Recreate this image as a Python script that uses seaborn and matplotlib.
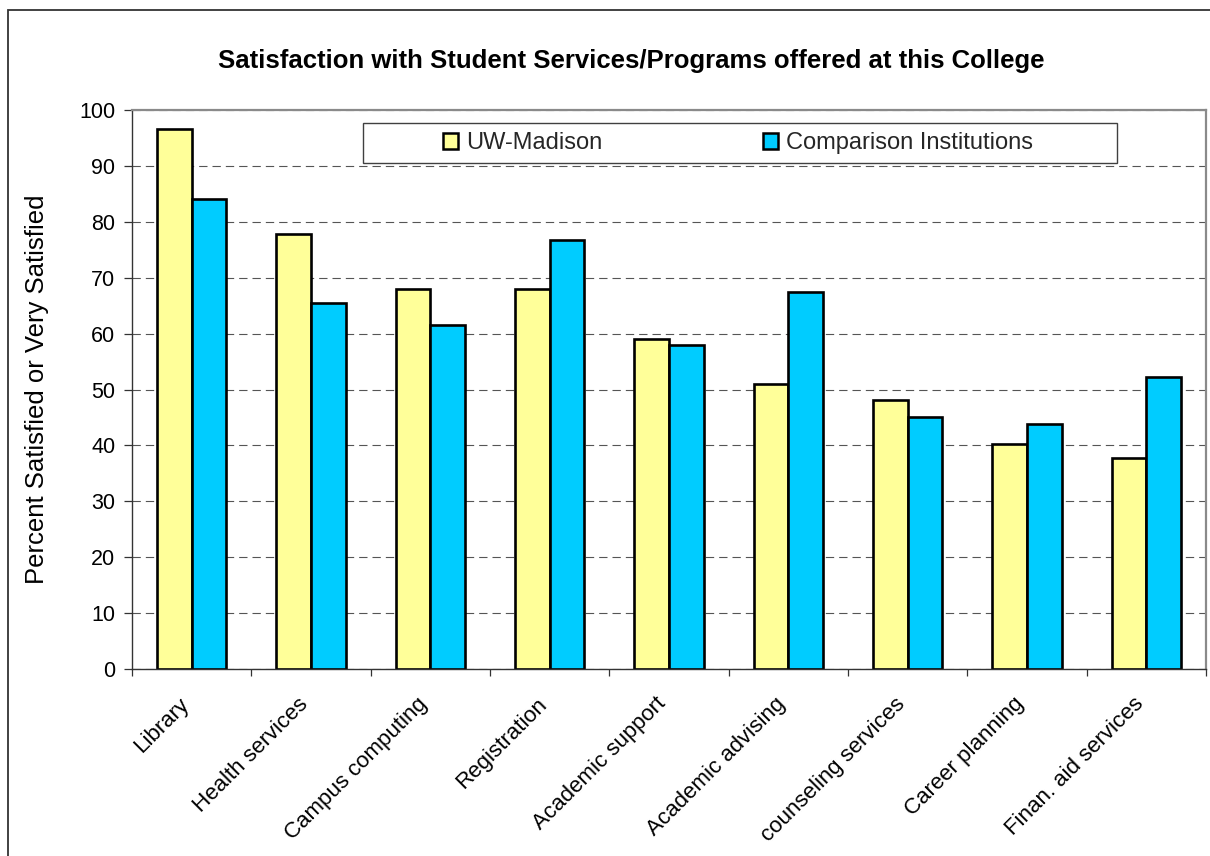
import matplotlib
matplotlib.use("Agg")
import matplotlib.pyplot as plt
import matplotlib.transforms as mtransforms
from matplotlib.patches import Patch, Rectangle
from matplotlib.ticker import FixedLocator, MultipleLocator
import numpy as np
import pandas as pd
import seaborn as sns

# Survey results: percent of students satisfied or very satisfied
services = [
    "Library", "Health services", "Campus computing", "Registration",
    "Academic support", "Academic advising", "counseling services",
    "Career planning", "Finan. aid services",
]
uw_madison = [96.6, 77.8, 68.0, 68.0, 59.0, 50.9, 48.1, 40.3, 37.7]
comparison = [84.1, 65.4, 61.5, 76.8, 58.0, 67.5, 45.0, 43.9, 52.3]
groups = ["UW-Madison", "Comparison Institutions"]
colors = ["#FFFF99", "#00CCFF"]

title = "Satisfaction with Student Services/Programs offered at this College"
ylabel = "Percent Satisfied or Very Satisfied"

df = pd.DataFrame({
    "Service": services * 2,
    "Percent": uw_madison + comparison,
    "Institution": [groups[0]] * len(services) + [groups[1]] * len(services),
})

sns.set_theme(style="white")
plt.rcParams["font.family"] = ["Liberation Sans", "DejaVu Sans"]

W, H = 1210, 856
fig = plt.figure(figsize=(W / 100, H / 100), dpi=100)
fig.patch.set_facecolor("white")

# plot area in pixels: left 132, right 1206, top 110, bottom 669
ax = fig.add_axes([132 / W, 1 - 669 / H, (1206 - 132) / W, (669 - 110) / H])

sns.barplot(
    data=df, x="Service", y="Percent", hue="Institution",
    order=services, hue_order=groups, palette=colors,
    width=0.58, gap=0, edgecolor="black", linewidth=1.9,
    saturation=1, legend=False, ax=ax,
)

ax.set_xlim(-0.5, len(services) - 0.5)
ax.set_ylim(0, 100)
ax.yaxis.set_major_locator(MultipleLocator(10))

# dashed horizontal gridlines
ax.set_axisbelow(True)
ax.yaxis.grid(True, color="#555555", linewidth=0.8, linestyle=(0, (7.5, 4.5)))
ax.xaxis.grid(False)

# frame: gray top/right, dark left/bottom axis lines
for side in ("top", "right"):
    ax.spines[side].set_color("#8a8a8a")
    ax.spines[side].set_linewidth(1.6)
for side in ("left", "bottom"):
    ax.spines[side].set_color("#333333")
    ax.spines[side].set_linewidth(1.0)

# y ticks
ax.tick_params(axis="y", which="major", direction="out", length=6, width=0.9,
               color="#333333", pad=6, labelsize=15.5, labelcolor="black", left=True)

# x: labels at category centers, tick marks at category boundaries
ax.set_xticks(range(len(services)))
ax.set_xticklabels(services)
ax.xaxis.set_minor_locator(FixedLocator(np.arange(-0.5, len(services), 1.0)))
ax.tick_params(axis="x", which="major", length=0, pad=23, labelsize=16, labelcolor="black")
ax.tick_params(axis="x", which="minor", direction="out", length=5, width=0.9,
               color="#333333", bottom=True)
shift = mtransforms.ScaledTranslation(-6 / 100, 0, fig.dpi_scale_trans)
for lbl in ax.get_xticklabels():
    lbl.set_rotation(45)
    lbl.set_ha("right")
    lbl.set_va("center")
    lbl.set_rotation_mode("anchor")
    lbl.set_transform(lbl.get_transform() + shift)

ax.set_xlabel("")
ax.set_ylabel(ylabel, fontsize=18.5, color="black")
ax.yaxis.label.set_va("center")
ax.yaxis.set_label_coords((37 - 132) / (1206 - 132), 0.5)

# title
fig.text(631 / W, 1 - 61 / H, title, ha="center", va="center",
         fontsize=18.5, fontweight="bold", color="black")

# legend box and entries
fig.patches.append(Rectangle((363 / W, 1 - 163 / H), (1117 - 363) / W, 40 / H,
                             transform=fig.transFigure, facecolor="white",
                             edgecolor="#404040", linewidth=1.0, zorder=5))
handles = [Patch(facecolor=c, edgecolor="black", linewidth=1.8) for c in colors]
leg = fig.legend(handles, groups, loc="center left",
                 bbox_to_anchor=(443 / W, 1 - 143 / H), bbox_transform=fig.transFigure,
                 ncol=2, frameon=False, fontsize=17, borderpad=0, borderaxespad=0,
                 handlelength=0.64, handleheight=0.64, handletextpad=0.34,
                 columnspacing=6.8)
leg.set_zorder(6)

# outer chart border
fig.patches.append(Rectangle((8 / W, -0.05), 1.2, 1 - 10 / H + 0.05,
                             transform=fig.transFigure, facecolor="none",
                             edgecolor="#333333", linewidth=1.3, zorder=0))

fig.savefig("out.png", dpi=100)
